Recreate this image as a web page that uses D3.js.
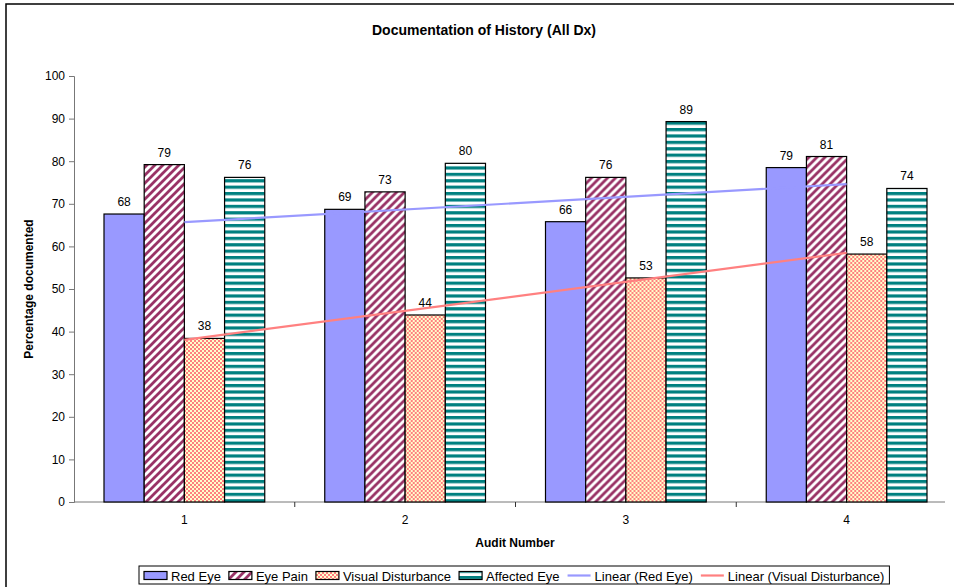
<!DOCTYPE html>
<html>
<head>
<meta charset="utf-8">
<script src="https://cdn.jsdelivr.net/npm/d3@7"></script>
<style>
  html, body { margin: 0; padding: 0; background: #fff; }
  svg { display: block; font-family: "Liberation Sans", Arial, sans-serif; }
</style>
</head>
<body>
<div id="chart"></div>
<script>
// ---- data ----
const categories = ["1", "2", "3", "4"];
const seriesNames = ["Red Eye", "Eye Pain", "Visual Disturbance", "Affected Eye"];
const redEye = [67.6, 68.7, 65.8, 78.5];
const eyePain = [79.2, 72.8, 76.2, 81.1];
const visualDisturbance = [38.4, 43.9, 52.6, 58.2];
const affectedEye = [76.2, 79.5, 89.3, 73.6];
const yTicks = [0, 10, 20, 30, 40, 50, 60, 70, 80, 90, 100];
const chartTitle = "Documentation of History (All Dx)";
const xTitle = "Audit Number";
const yTitle = "Percentage documented";

const W = 954, H = 587;
const svg = d3.select("#chart").append("svg").attr("width", W).attr("height", H);
const defs = svg.append("defs");

// patterns
const pRed = "#9999FF";
const p1 = defs.append("pattern").attr("id", "pain").attr("patternUnits", "userSpaceOnUse")
  .attr("width", 8).attr("height", 8);
p1.append("rect").attr("width", 8).attr("height", 8).attr("fill", "#fff");
p1.append("path").attr("d", "M-2,2 L2,-2 M0,8 L8,0 M6,10 L10,6")
  .attr("stroke", "#993366").attr("stroke-width", 2.8);
const p2 = defs.append("pattern").attr("id", "visual").attr("patternUnits", "userSpaceOnUse")
  .attr("width", 4).attr("height", 4);
p2.append("rect").attr("width", 4).attr("height", 4).attr("fill", "#FF8080");
p2.append("rect").attr("width", 2).attr("height", 2).attr("fill", "#FFFFCC");
p2.append("rect").attr("x", 2).attr("y", 2).attr("width", 2).attr("height", 2).attr("fill", "#FFFFCC");
const p3 = defs.append("pattern").attr("id", "affected").attr("patternUnits", "userSpaceOnUse")
  .attr("width", 8).attr("height", 6.4);
p3.append("rect").attr("width", 8).attr("height", 6.4).attr("fill", "#fff");
p3.append("rect").attr("y", 0).attr("width", 8).attr("height", 3.2).attr("fill", "#008080");

const fills = [pRed, "url(#pain)", "url(#visual)", "url(#affected)"];
const seriesData = [redEye, eyePain, visualDisturbance, affectedEye];

// outer frame
svg.append("rect").attr("x", 6).attr("y", 4).attr("width", 1000).attr("height", 1000)
  .attr("fill", "none").attr("stroke", "#000").attr("stroke-width", 1.5);

// scales
const x0 = d3.scaleBand().domain(categories).range([74, 957]).paddingInner(0).paddingOuter(0);
const groupPad = 30;
const x1 = d3.scaleBand().domain(seriesNames).range([0, x0.bandwidth() - 2 * groupPad]).padding(0);
const y = d3.scaleLinear().domain([0, 100]).range([502, 76]);

// title
svg.append("text").attr("x", 484).attr("y", 35).attr("text-anchor", "middle")
  .attr("font-size", 14).attr("font-weight", "bold").text(chartTitle);

// y axis
const yAxis = svg.append("g").attr("transform", "translate(74,0)")
  .call(d3.axisLeft(y).tickValues(yTicks).tickSize(5).tickPadding(4));
yAxis.select(".domain").attr("stroke", "#777");
yAxis.selectAll(".tick line").attr("stroke", "#777");
yAxis.selectAll("text").attr("font-size", 12).attr("fill", "#000")
  .attr("font-family", "Liberation Sans, Arial, sans-serif");

// x axis
const xAxis = svg.append("g").attr("transform", "translate(0,502)")
  .call(d3.axisBottom(x0).tickSize(0).tickPadding(13));
xAxis.select(".domain").remove();
xAxis.selectAll("text").attr("font-size", 12).attr("fill", "#000")
  .attr("font-family", "Liberation Sans, Arial, sans-serif");
svg.append("line").attr("x1", 74).attr("x2", 945).attr("y1", 502).attr("y2", 502)
  .attr("stroke", "#777");
svg.selectAll(".cattick").data(categories.slice(1)).enter().append("line")
  .attr("x1", d => x0(d)).attr("x2", d => x0(d)).attr("y1", 502).attr("y2", 507)
  .attr("stroke", "#333");

// bars
const groups = svg.selectAll(".grp").data(categories).enter().append("g")
  .attr("transform", d => `translate(${x0(d) + groupPad},0)`);
seriesNames.forEach((s, si) => {
  groups.append("rect")
    .attr("x", x1(s))
    .attr("y", (d, i) => y(seriesData[si][i]))
    .attr("width", x1.bandwidth())
    .attr("height", (d, i) => y(0) - y(seriesData[si][i]))
    .attr("fill", fills[si])
    .attr("stroke", "#000").attr("stroke-width", 1.2);
});

// trend lines (least squares)
function fit(vals) {
  const n = vals.length, xs = vals.map((v, i) => i + 1);
  const mx = d3.mean(xs), my = d3.mean(vals);
  const sxy = d3.sum(xs.map((xv, i) => (xv - mx) * (vals[i] - my)));
  const sxx = d3.sum(xs.map(xv => (xv - mx) ** 2));
  const b = sxy / sxx, a = my - b * mx;
  return [1, n].map(xv => [xv, a + b * xv]);
}
const cx = k => x0(categories[k - 1]) + x0.bandwidth() / 2;
const line = d3.line().x(d => cx(d[0])).y(d => y(d[1]));
svg.append("path").attr("d", line(fit(redEye))).attr("stroke", "#9999FF")
  .attr("stroke-width", 2.2).attr("fill", "none");
svg.append("path").attr("d", line(fit(visualDisturbance))).attr("stroke", "#FF8080")
  .attr("stroke-width", 2.2).attr("fill", "none");

// value labels
seriesNames.forEach((s, si) => {
  groups.append("text")
    .attr("x", x1(s) + x1.bandwidth() / 2)
    .attr("y", (d, i) => y(seriesData[si][i]) - 8)
    .attr("text-anchor", "middle").attr("font-size", 12)
    .text((d, i) => Math.round(seriesData[si][i]));
});

// axis titles
svg.append("text").attr("x", 515).attr("y", 547).attr("text-anchor", "middle")
  .attr("font-size", 12).attr("font-weight", "bold").text(xTitle);
svg.append("text").attr("transform", "translate(33,289) rotate(-90)").attr("text-anchor", "middle")
  .attr("font-size", 12).attr("font-weight", "bold").text(yTitle);

// legend
const legendItems = [
  { name: "Red Eye", type: "rect", fill: fills[0] },
  { name: "Eye Pain", type: "rect", fill: fills[1] },
  { name: "Visual Disturbance", type: "rect", fill: fills[2] },
  { name: "Affected Eye", type: "rect", fill: fills[3] },
  { name: "Linear (Red Eye)", type: "line", color: "#9999FF" },
  { name: "Linear (Visual Disturbance)", type: "line", color: "#FF8080" }
];
const lg = svg.append("g");
const lbox = lg.append("rect").attr("y", 566).attr("height", 18)
  .attr("fill", "#fff").attr("stroke", "#000").attr("stroke-width", 1);
let lx = 144;
legendItems.forEach(it => {
  if (it.type === "rect") {
    lg.append("rect").attr("x", lx).attr("y", 571.5).attr("width", 23).attr("height", 8)
      .attr("fill", it.fill).attr("stroke", "#000").attr("stroke-width", 1.2);
  } else {
    lg.append("line").attr("x1", lx).attr("x2", lx + 23).attr("y1", 575.5).attr("y2", 575.5)
      .attr("stroke", it.color).attr("stroke-width", 2.2);
  }
  const t = lg.append("text").attr("x", lx + 27).attr("y", 580.5).attr("font-size", 13)
    .text(it.name);
  lx += 27 + t.node().getComputedTextLength() + 8;
});
lbox.attr("x", 139).attr("width", lx - 139 - 3);
</script>
</body>
</html>
